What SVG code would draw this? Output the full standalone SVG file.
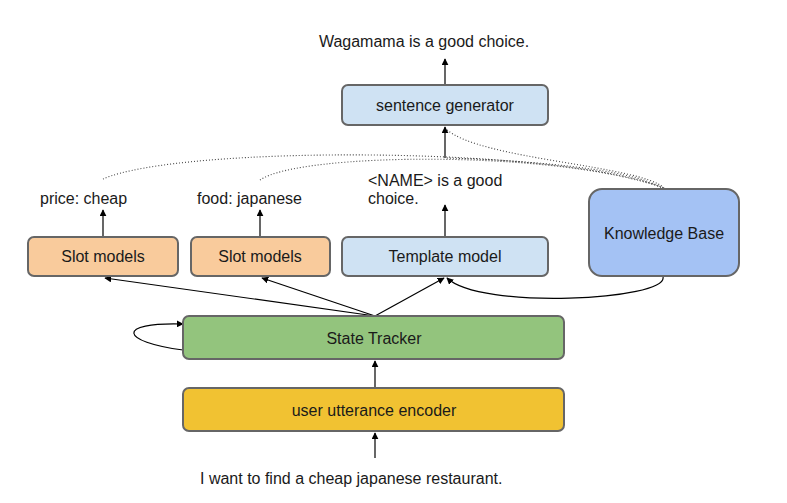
<svg xmlns="http://www.w3.org/2000/svg" width="787" height="503" viewBox="0 0 787 503">
<defs>
<marker id="ah" viewBox="0 0 10 10" refX="9" refY="5" markerWidth="7" markerHeight="7" markerUnits="userSpaceOnUse" orient="auto">
<path d="M0,0 L10,5 L0,10 z" fill="#000"/>
</marker>
<style>
text{font-family:"Liberation Sans",Arial,sans-serif;font-size:16px;fill:#1a1a1a;}
.c{text-anchor:middle;}
.box{stroke:#666;stroke-width:2;}
.ln{fill:none;stroke:#000;stroke-width:1.2;}
.dot{fill:none;stroke:#444;stroke-width:1.1;stroke-dasharray:1 2;}
</style>
</defs>
<rect width="787" height="503" fill="#fff"/>

<g id="labels">
<text x="424" y="47" class="c">Wagamama is a good choice.</text>
<text x="40" y="204">price: cheap</text>
<text x="197" y="204">food: japanese</text>
<text x="368" y="186">&lt;NAME&gt; is a good</text>
<text x="368" y="204">choice.</text>
<text x="200" y="484">I want to find a cheap japanese restaurant.</text>
</g>

<g id="connectors">
<path class="ln" d="M445,85 L445,59" marker-end="url(#ah)"/>
<path class="ln" d="M445,158 L445,127" marker-end="url(#ah)"/>
<path class="ln" d="M445,237 L445,205" marker-end="url(#ah)"/>
<path class="ln" d="M103,237 L103,210" marker-end="url(#ah)"/>
<path class="ln" d="M260,237 L260,210" marker-end="url(#ah)"/>
<path class="ln" d="M375,316 L105,278" marker-end="url(#ah)"/>
<path class="ln" d="M375,316 L262,278" marker-end="url(#ah)"/>
<path class="ln" d="M375,316 L444,278" marker-end="url(#ah)"/>
<path class="ln" d="M375,388 L375,361" marker-end="url(#ah)"/>
<path class="ln" d="M375,458 L375,433" marker-end="url(#ah)"/>
<path class="ln" d="M663,277 C668,300 480,310 447,278" marker-end="url(#ah)"/>
<path class="ln" d="M183,350 C120,342 115,322 183,324" marker-end="url(#ah)"/>
<path class="dot" d="M103,179 C180,145 560,146 664,188"/>
<path class="dot" d="M260,180 C300,152 560,150 663,188"/>
<path class="dot" d="M447,158 C520,160 630,168 662,188"/>
<path class="dot" d="M664,188 C640,165 480,160 446,129"/>
</g>

<g id="sentence-generator">
<rect class="box" x="342" y="85" width="206" height="40" rx="6" fill="#cfe2f3"/>
<text x="445" y="111" class="c">sentence generator</text>
</g>
<g id="slot-models-1">
<rect class="box" x="28" y="237" width="150" height="39" rx="6" fill="#f9cb9c"/>
<text x="103" y="262" class="c">Slot models</text>
</g>
<g id="slot-models-2">
<rect class="box" x="191" y="237" width="139" height="39" rx="6" fill="#f9cb9c"/>
<text x="260" y="262" class="c">Slot models</text>
</g>
<g id="template-model">
<rect class="box" x="342" y="237" width="206" height="39" rx="6" fill="#cfe2f3"/>
<text x="445" y="262" class="c">Template model</text>
</g>
<g id="knowledge-base">
<rect class="box" x="589" y="189" width="150" height="87" rx="13" fill="#a4c2f4"/>
<text x="664" y="239" class="c">Knowledge Base</text>
</g>
<g id="state-tracker">
<rect class="box" x="183" y="316" width="381" height="43" rx="6" fill="#93c47d"/>
<text x="374" y="344" class="c">State Tracker</text>
</g>
<g id="user-utterance-encoder">
<rect class="box" x="183" y="388" width="381" height="43" rx="6" fill="#f1c232"/>
<text x="374" y="416" class="c">user utterance encoder</text>
</g>
</svg>
